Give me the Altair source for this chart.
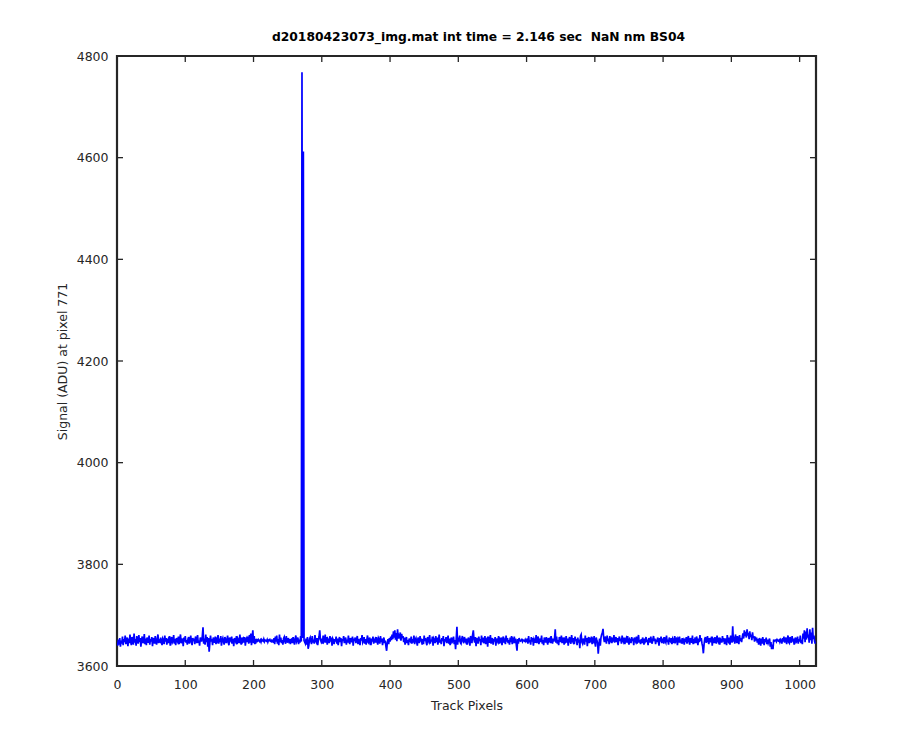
import altair as alt
import pandas as pd

# Baseline noise, as deviation from 3650 ADU, one value per track pixel
noise_rows = [
    "-4 -10 2 -8 5 -12 0 -6 8 -9 3 -3 10 -7 -1 6 -11 4 -5 12 -2 -9 7 0 -8 14 -4 3 -10 9 -1 -6 11 -3 5 -12 2 8 -5 -1 13 -7 4 -9 6 0 -4 10 -8 3 -2 7 -11 5 1 -6 9 -3 -8 4 12 -5 0 -2",
    "6 -3 -9 4 1 -7 10 -2 5 -8 0 3 -5 9 -10 2 7 -4 -1 11 -6 3 -9 5 0 -3 8 -7 2 12 -5 -1 4 -11 6 -2 9 -4 1 -8 3 7 -6 0 10 -3 -9 5 -1 4 -7 8 2 -5 11 -4 0 -10 6 3 -2 9 26 -6",
    "4 -8 12 -3 7 -12 5 -22 -5 10 -2 3 -9 6 0 -4 8 -7 2 -1 11 -6 4 -3 9 -10 1 5 -2 -8 7 3 -5 0 10 -4 -9 6 2 -1 8 -6 3 -11 5 0 -3 9 -7 4 1 -5 12 -2 -8 6 -1 3 -4 7 -10 2 5 -3",
    "8 -6 11 -4 14 -9 6 20 -5 9 -7 3 -2 1 -1 2 0 -2 1 -3 2 0 -1 3 -2 1 0 -1 2 -3 1 0 2 -1 -2 1 0 -4 5 -7 8 -2 10 -6 3 -9 12 -3 6 -5 1 -8 4 7 -2 -6 9 0 -4 5 -1 3 -7 2",
    "3 -5 7 -1 -8 4 10 -3 0 6 -7 2 -4 9 -2 5 5 4 0 -3 -6 4 -8 7 -16 -10 3 6 -2 -7 9 -4 2 -6 11 0 -3 5 -9 1 8 20 2 -2 4 -6 10 -3 -1 12 -4 7 -8 3 0 -5 9 -2 6 -10 4 1 -7 3",
    "-2 8 -6 4 -9 1 7 -3 5 -11 3 -1 9 -5 0 6 -8 2 -4 10 -2 -7 5 1 -3 8 -10 4 -1 6 -5 2 9 -7 3 -2 -9 5 0 11 -4 -1 7 -6 3 -8 2 10 -3 -5 6 1 -9 4 -2 8 -6 0 3 -4 7 -1 -8 5",
    "2 -6 9 -3 4 -9 1 6 -5 0 -12 -20 -4 3 -7 5 -2 8 1 12 3 18 6 20 2 15 -1 22 4 10 7 16 0 13 5 9 -3 6 -8 2 7 -5 1 -9 4 0 -2 8 -6 3 -4 10 -7 2 5 -3 -10 6 1 -5 9 -2 4 -8",
    "3 -7 10 -1 5 -4 -9 7 0 -3 11 -6 2 -2 8 -10 4 1 -5 9 -3 6 -8 0 12 -4 2 -7 5 -1 9 -11 3 -2 7 -5 0 10 -6 4 -9 2 6 -3 -1 8 -7 1 -17 5 27 -8 6 -2 10 -4 -6 3 9 -1 -5 7 0 -3",
    "4 -8 1 6 -2 -10 9 3 -5 12 20 2 -4 7 -11 5 0 -6 8 -1 3 -9 10 -3 6 -5 -1 9 -7 2 4 -12 8 0 -4 11 -6 1 5 -8 3 -2 7 -10 4 0 -3 9 -6 2 -1 6 -9 3 8 -4 0 -7 10 -2 5 -5 1 -8",
    "6 -3 9 -7 2 -1 8 -5 4 -9 -20 3 -6 5 1 -1 0 2 -2 1 0 -1 2 -2 0 4 -6 9 -3 1 -8 7 -2 5 -10 3 0 -4 11 -5 2 8 -7 -1 4 -3 10 -6 1 -9 6 2 -4 7 -2 -8 5 0 3 -5 9 -1 -6 4",
    "-2 5 22 -4 8 -6 1 -9 7 3 -3 10 -5 0 6 -8 2 -1 9 -4 4 -10 1 7 -2 -6 11 0 -3 5 -7 8 -1 3 -9 6 -4 2 -15 9 12 -3 -6 4 0 -8 10 -2 5 -11 3 7 -5 1 -3 8 -7 2 -1 9 -4 -12 6 0",
    "-5 -26 -8 4 -10 6 12 15 23 5 -3 8 2 -6 10 -1 4 -7 9 0 3 -5 6 -2 11 -4 1 7 -3 5 -9 2 8 -1 4 -6 10 0 -3 6 -7 2 5 -4 9 -2 -8 3 1 -5 7 -1 4 -9 6 0 -3 8 -6 2 11 -4 1 -7",
    "3 -5 6 -1 -8 4 0 7 -3 2 -9 5 1 -4 8 -2 -6 3 9 -1 4 -7 2 -3 6 0 -10 5 -2 8 -5 1 3 -6 7 -1 -4 10 -3 2 -8 6 0 -2 5 -7 4 1 -5 9 -3 -1 6 -9 3 0 8 -4 2 -6 5 -2 1 -8",
    "4 -3 7 -6 1 9 -2 -8 5 0 -4 10 -7 3 -1 6 -5 8 2 -9 4 -3 11 -1 5 -6 -12 -25 -8 3 7 -4 0 9 -2 -7 5 1 -3 8 -10 4 2 -5 7 -1 -6 10 0 -3 6 -8 3 1 -4 9 -2 5 -7 0 4 -9 11 -1",
    "-3 6 -8 10 2 -4 28 -2 8 -6 12 3 -5 9 0 -7 11 -1 5 -3 7 14 4 20 9 17 6 22 10 15 3 18 7 12 1 16 5 9 -2 8 0 6 -4 3 -8 5 1 -10 4 -6 7 -2 -9 3 -3 6 -7 2 -5 -1 4 -12 -3 -17",
    "-8 -17 2 -1 0 1 -2 2 0 -1 1 -3 2 0 -6 5 -2 8 -4 1 6 -7 3 10 -3 -5 7 0 -4 9 -2 4 -8 2 6 -3 -1 8 -6 3 -2 10 -5 1 -7 14 4 20 -3 18 2 24 6 12 -4 22 1 16 -6 25 3 10 -2 -6",
]
baseline_adu = 3650

# Spike (cosmic-ray hit) values
spike_pixels = [271, 272, 273]
spike_values = [4768, 3655, 4612]

x_tick_values = [0, 100, 200, 300, 400, 500, 600, 700, 800, 900, 1000]
y_tick_values = [3600, 3800, 4000, 4200, 4400, 4600, 4800]

title_text = "d20180423073_img.mat int time = 2.146 sec \u00a0NaN nm BS04"
x_title = "Track Pixels"
y_title = "Signal (ADU) at pixel 771"

# ---- build table ----
signal = []
for row in noise_rows:
    signal.extend(baseline_adu + int(v) for v in row.split())
for p, v in zip(spike_pixels, spike_values):
    if p < len(signal):
        signal[p] = v
df = pd.DataFrame({"pixel": list(range(len(signal))), "signal": signal})
xt = pd.DataFrame({"t": x_tick_values})
yt = pd.DataFrame({"t": y_tick_values})

W, H = 699, 610
INK = "#262626"
FONT = "DejaVu Sans"

xscale = alt.Scale(domain=[0, 1024], nice=False, zero=False)
yscale = alt.Scale(domain=[3600, 4800], nice=False, zero=False)

x_axis = alt.Axis(values=x_tick_values, title=x_title, tickSize=0, domain=False,
                  grid=False, labelPadding=12, titlePadding=9, format="d", labelFlush=False)
y_axis = alt.Axis(values=y_tick_values, title=y_title, tickSize=0, domain=False,
                  grid=False, labelPadding=9, titlePadding=7, format="d", labelFlush=False)

line = alt.Chart(df).mark_line(color="#0000FF", strokeWidth=1.7, clip=True).encode(
    x=alt.X("pixel:Q", scale=xscale, axis=x_axis),
    y=alt.Y("signal:Q", scale=yscale, axis=y_axis),
)

tick_len = 6
tick_style = dict(color=INK, strokeWidth=1.3)
bottom_ticks = alt.Chart(xt).mark_rule(**tick_style).encode(
    x=alt.X("t:Q", scale=xscale, axis=x_axis), y=alt.value(H), y2=alt.value(H - tick_len))
top_ticks = alt.Chart(xt).mark_rule(**tick_style).encode(
    x=alt.X("t:Q", scale=xscale, axis=x_axis), y=alt.value(0), y2=alt.value(tick_len))
left_ticks = alt.Chart(yt).mark_rule(**tick_style).encode(
    y=alt.Y("t:Q", scale=yscale, axis=y_axis), x=alt.value(0), x2=alt.value(tick_len))
right_ticks = alt.Chart(yt).mark_rule(**tick_style).encode(
    y=alt.Y("t:Q", scale=yscale, axis=y_axis), x=alt.value(W), x2=alt.value(W - tick_len))

chart = alt.layer(line, bottom_ticks, top_ticks, left_ticks, right_ticks).properties(
    width=W, height=H,
    title=alt.Title(title_text, fontSize=12.3, fontWeight="bold", font=FONT,
                    color="#000000", offset=7, dx=12),
    autosize=alt.AutoSizeParams(type="none"),
    padding={"left": 109, "top": 48, "right": 76, "bottom": 76},
    background="#ffffff",
).configure_view(
    stroke=INK, strokeWidth=2.2
).configure_axis(
    labelFont=FONT, titleFont=FONT, labelFontSize=12.5, titleFontSize=12.5,
    labelColor=INK, titleColor=INK, titleFontWeight="normal",
)

chart.save("out.html", embed_options={"renderer": "svg", "actions": False})
